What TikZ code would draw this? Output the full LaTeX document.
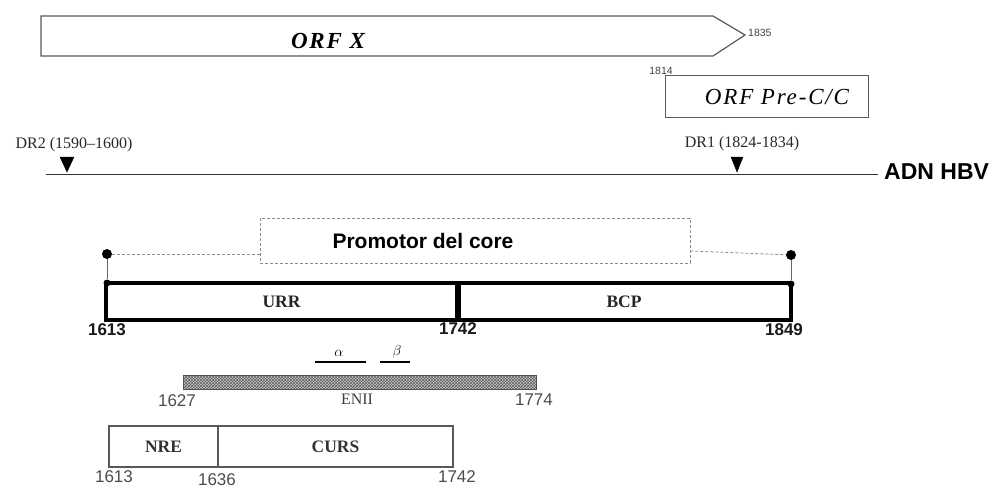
\documentclass[tikz,border=0pt]{standalone}
\usepackage{fontspec}
\setmainfont{Liberation Serif}
\setsansfont{Liberation Sans}
\newfontfamily\orffont[LetterSpace=8]{Liberation Serif}
\usetikzlibrary{patterns}
\begin{document}
\begin{tikzpicture}[x=1pt,y=-1pt,
  orfline/.style={draw=black!65, line width=1.2pt},
  orftxt/.style={inner sep=0pt, font=\orffont\itshape\fontsize{23}{23}\selectfont},
  tinynum/.style={inner sep=0pt, font=\sffamily\fontsize{10.5}{10.5}\selectfont, text=black!75},
  drtxt/.style={inner sep=0pt, font=\fontsize{16}{16}\selectfont, text=black!85},
  drmark/.style={fill=black, draw=black},
  mainbox/.style={draw=black, line width=3.2pt, minimum height=37pt, inner sep=0pt, font=\bfseries\fontsize{17.5}{17.5}\selectfont, text=black!85},
  boldnum/.style={inner sep=0pt, font=\sffamily\bfseries\fontsize{17}{17}\selectfont, text=black!90},
  plainnum/.style={inner sep=0pt, font=\sffamily\fontsize{17}{17}\selectfont, text=black!70},
  lowbox/.style={draw=black!65, line width=1.3pt, minimum height=41pt, inner sep=0pt, font=\bfseries\fontsize{17.5}{17.5}\selectfont, text=black!80},
  promobox/.style={draw=black!45, densely dashed, line width=0.9pt, minimum width=430pt, minimum height=45pt, inner sep=0pt},
  thinconn/.style={draw=black!45, densely dashed, line width=0.8pt},
  dotmark/.style={circle, fill=black, inner sep=0pt, minimum size=#1},
  seg/.style={draw=black, line width=2.4pt},
  greek/.style={inner sep=0pt, font=\fontsize{15}{15}\selectfont}
]
\useasboundingbox (0,0) rectangle (994,488);

% ORF X arrow
\draw[orfline, fill=white] (41,16) -- (713,16) -- (745,35) -- (713,56) -- (41,56) -- cycle;
\node[orftxt, font=\orffont\itshape\bfseries\fontsize{23}{23}\selectfont] (orfx) at (328,41) {ORF X};
\node[tinynum, anchor=west] (n1835) at (748,33) {1835};

% ORF Pre-C/C
\node[tinynum] (n1814) at (661,71) {1814};
\node[orfline, line width=1pt, minimum width=203pt, minimum height=42pt, inner sep=0pt] (prec) at (766.5,96) {};
\node[orftxt] (prectxt) at (777,97) {ORF Pre-C/C};

% HBV line
\coordinate (hbvstart) at (46,174);
\node[inner sep=0pt, anchor=west, font=\sffamily\bfseries\fontsize{23}{23}\selectfont] (hbv) at (884,172) {ADN HBV};
\draw[black!80, line width=1pt] (hbvstart) -- (878,174) coordinate (hbvend);

\node[drtxt] (dr2) at (74,145) {DR2 (1590–1600)};
\node[drtxt] (dr1) at (742,144) {DR1 (1824-1834)};
\draw[drmark] (60,157) -- (74,157) -- (67,172) -- cycle;
\draw[drmark] (731,157) -- (743,157) -- (737,172) -- cycle;

% Promotor del core
\node[promobox] (promo) at (475,240.5) {};
\node[inner sep=0pt, font=\sffamily\bfseries\fontsize{21}{21}\selectfont] (promotxt) at (423,241) {Promotor del core};

\node[dotmark=10pt] (ldot) at (107,254) {};
\node[dotmark=10pt] (rdot) at (791,255) {};
\node[dotmark=7pt] (ldot2) at (107,283) {};
\node[dotmark=7pt] (rdot2) at (791,284) {};
\draw[thinconn] (ldot) -- (ldot -| promo.west);
\draw[thinconn] (promo.east |- 0,251) -- (rdot);
\draw[black!60, line width=0.8pt] (ldot) -- (ldot2);
\draw[black!60, line width=0.8pt] (rdot) -- (rdot2);

% main box
\node[mainbox, minimum width=351pt] (urr) at (281.5,301.5) {URR};
\node[mainbox, minimum width=334pt] (bcp) at (624,301.5) {BCP};
\draw[black, line width=4.5pt] (urr.north east) -- (urr.south east);
\node[boldnum] (m1613) at (107,330) {1613};
\node[boldnum] (m1742) at (458,329) {1742};
\node[boldnum] (m1849) at (784,330) {1849};

% alpha beta
\draw[seg] (315,362) coordinate (a1) -- (366,362) coordinate (a2);
\draw[seg] (380,362) coordinate (b1) -- (410,362) coordinate (b2);
\node[greek] (alpha) at (339,353) {$\alpha$};
\node[greek] (beta) at (397,352) {$\beta$};

% ENII
\node[draw=black!70, line width=0.8pt, fill=black!20, minimum width=353pt, minimum height=14pt, inner sep=0pt,
      postaction={pattern=crosshatch, pattern color=black!65}] (enii) at (359.5,382) {};
\node[inner sep=0pt, font=\fontsize{16}{16}\selectfont, text=black!75] (eniitxt) at (357,399) {ENII};
\node[plainnum] (e1627) at (177,401) {1627};
\node[plainnum] (e1774) at (534,400) {1774};

% NRE / CURS
\node[lowbox, minimum width=109pt] (nre) at (163.5,446.5) {NRE};
\node[lowbox, minimum width=235pt] (curs) at (335.5,446.5) {CURS};
\node[plainnum] (b1613) at (114,477) {1613};
\node[plainnum] (b1636) at (217,480) {1636};
\node[plainnum] (b1742) at (457,477) {1742};
\end{tikzpicture}
\end{document}
